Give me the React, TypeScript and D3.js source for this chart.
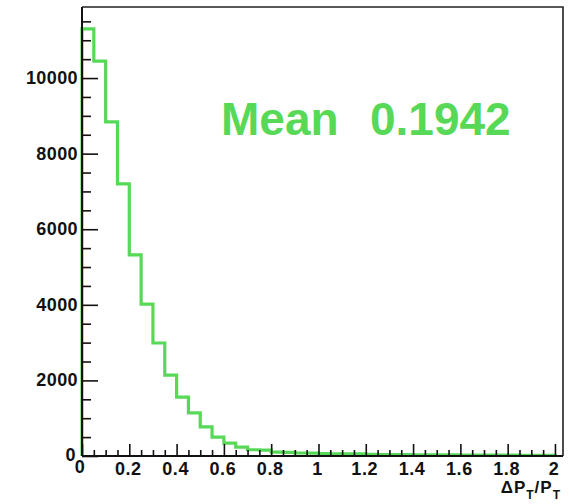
import React, { useEffect, useRef } from 'react';
import * as d3 from 'd3';

// bin lower edges step 0.05 from 0 to 2
const binWidth = 0.05;
const counts: number[] = [
  11300, 10450, 8840, 7200, 5320, 4020, 2990, 2140, 1560, 1140,
  770, 500, 340, 235, 165, 155, 100, 95, 80, 75,
  65, 60, 60, 55, 45, 40, 38, 35, 33, 32,
  30, 28, 27, 25, 24, 22, 21, 20, 19, 18,
];
const xMajorTicks = [0, 0.2, 0.4, 0.6, 0.8, 1, 1.2, 1.4, 1.6, 1.8, 2];
const yMajorTicks = [0, 2000, 4000, 6000, 8000, 10000];
const meanLabel = 'Mean';
const meanValue = '0.1942';

const green = '#57d957';

const App: React.FC = () => {
  const ref = useRef<SVGSVGElement | null>(null);

  useEffect(() => {
    if (!ref.current) return;
    const svg = d3.select(ref.current);
    svg.selectAll('*').remove();

    const width = 569;
    const height = 504;
    const margin = { top: 7, right: 6, bottom: 48, left: 82 };
    svg.attr('width', width).attr('height', height);

    const x = d3.scaleLinear().domain([0, 2.034]).range([margin.left, width - margin.right]);
    const y = d3.scaleLinear().domain([0, 11880]).range([height - margin.bottom, margin.top]);

    // histogram outline
    let p = `M${x(0)},${y(0)}`;
    counts.forEach((c, i) => {
      p += `V${y(c)}H${x((i + 1) * binWidth)}`;
    });
    p += `V${y(0)}`;
    svg.append('path')
      .attr('d', p)
      .attr('fill', 'none')
      .attr('stroke', green)
      .attr('stroke-width', 3.2);

    // frame (top + right)
    svg.append('path')
      .attr('d', `M${x(0)},${y.range()[1]}H${x.range()[1]}V${y(0)}`)
      .attr('fill', 'none')
      .attr('stroke', '#222')
      .attr('stroke-width', 1.6);

    // y axis, ticks inside
    const yAxis = d3.axisRight(y)
      .tickValues(d3.range(0, 11600, 500))
      .tickSize(9)
      .tickFormat(() => '');
    const yg = svg.append('g').attr('transform', `translate(${x(0)},0)`).call(yAxis);
    yg.selectAll('.tick line')
      .attr('x2', (d: any) => (d % 2000 === 0 ? 16 : 9))
      .attr('stroke', '#111')
      .attr('stroke-width', 1.6);
    yg.select('.domain').remove();
    svg.append('line')
      .attr('x1', x(0)).attr('x2', x(0))
      .attr('y1', y.range()[1]).attr('y2', y(0))
      .attr('stroke', '#111').attr('stroke-width', 2);

    // x axis, ticks inside
    const xAxis = d3.axisTop(x)
      .tickValues(d3.range(0, 41).map(i => i * binWidth))
      .tickSize(6)
      .tickFormat(() => '');
    const xg = svg.append('g').attr('transform', `translate(0,${y(0)})`).call(xAxis);
    xg.selectAll('.tick line')
      .attr('y2', (d: any) => (Math.abs(Math.round(d / 0.2) * 0.2 - d) < 1e-6 ? -12 : -6))
      .attr('stroke', '#111')
      .attr('stroke-width', 1.6);
    xg.select('.domain').remove();
    svg.append('line')
      .attr('x1', x(0)).attr('x2', x.range()[1])
      .attr('y1', y(0)).attr('y2', y(0))
      .attr('stroke', '#111').attr('stroke-width', 2);

    const font = '"Liberation Sans", Arial, sans-serif';

    svg.append('g').selectAll('text')
      .data(yMajorTicks)
      .enter().append('text')
      .attr('x', d => (d === 0 ? x(0) - 6 : x(0) - 4))
      .attr('y', d => (d === 0 ? y(0) + 5 : y(d) + 6))
      .attr('text-anchor', 'end')
      .attr('font-family', font)
      .attr('font-weight', 'bold')
      .attr('font-size', 18)
      .attr('letter-spacing', 0.4)
      .attr('fill', '#111')
      .text(d => String(d));

    svg.append('g').selectAll('text')
      .data(xMajorTicks)
      .enter().append('text')
      .attr('x', d => (d === 0 ? x(0) - 2 : x(d) - 1))
      .attr('y', d => (d === 0 ? y(0) + 17 : y(0) + 19))
      .attr('text-anchor', 'middle')
      .attr('font-family', font)
      .attr('font-weight', 'bold')
      .attr('font-size', 18)
      .attr('letter-spacing', 0.6)
      .attr('fill', '#111')
      .text(d => String(d));

    // axis title ΔP_T/P_T
    const title = svg.append('text')
      .attr('x', 561)
      .attr('y', 493)
      .attr('text-anchor', 'end')
      .attr('font-family', font)
      .attr('font-weight', 'bold')
      .attr('font-size', 17)
      .attr('letter-spacing', 1)
      .attr('fill', '#111');
    title.append('tspan').text('ΔP');
    title.append('tspan').attr('font-size', 12).attr('dy', 6).text('T');
    title.append('tspan').attr('dy', -6).text('/P');
    title.append('tspan').attr('font-size', 12).attr('dy', 6).text('T');

    // mean stat
    svg.append('text')
      .attr('x', 221)
      .attr('y', 135)
      .attr('font-family', font)
      .attr('font-weight', 'bold')
      .attr('font-size', 46)
      .attr('fill', green)
      .text(meanLabel);
    svg.append('text')
      .attr('x', 370)
      .attr('y', 135)
      .attr('font-family', font)
      .attr('font-weight', 'bold')
      .attr('font-size', 46)
      .attr('fill', green)
      .text(meanValue);
  }, []);

  return (
    <svg ref={ref} style={{ position: 'absolute', left: 0, top: 0, background: '#fff' }} />
  );
};

export default App;
